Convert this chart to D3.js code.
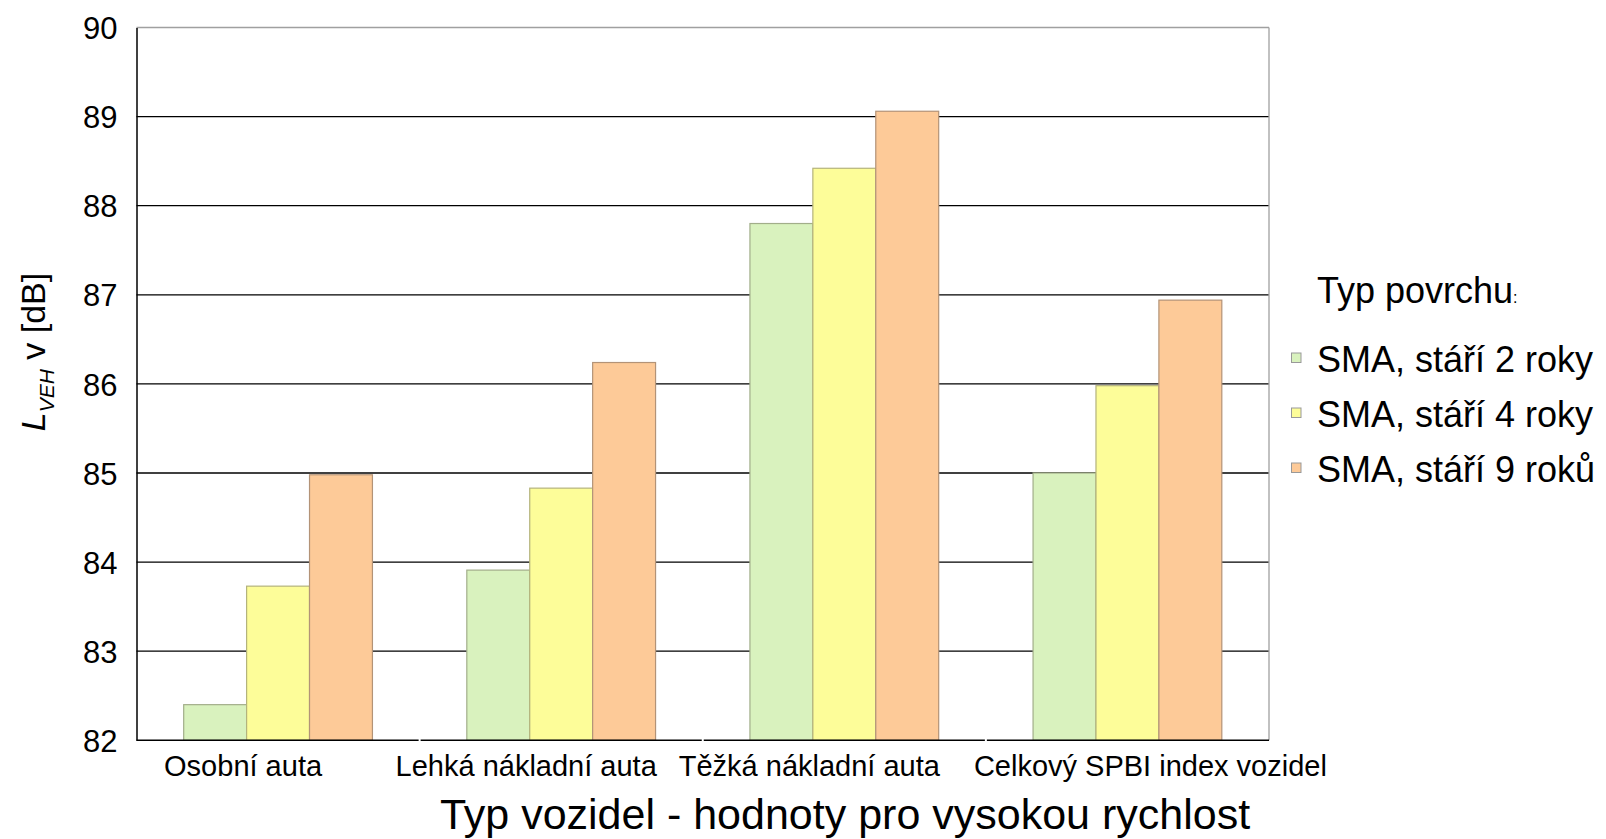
<!DOCTYPE html>
<html>
<head>
<meta charset="utf-8">
<script src="https://cdn.jsdelivr.net/npm/d3@7/dist/d3.min.js"></script>
<style>
    body { margin: 0; background: #fff; }
    text { font-family: "Liberation Sans", Arial, sans-serif; fill: #000; }
</style>
</head>
<body>
<svg id="chart" width="1606" height="839"></svg>
<script>
// data
var categories = ["Osobní auta", "Lehká nákladní auta", "Těžká nákladní auta", "Celkový SPBI index vozidel"];
var seriesNames = ["SMA, stáří 2 roky", "SMA, stáří 4 roky", "SMA, stáří 9 roků"];
var age2 = [82.40, 83.91, 87.80, 85.00];
var age4 = [83.73, 84.83, 88.42, 85.98];
var age9 = [84.98, 86.24, 89.06, 86.94];
var yTicks = [82, 83, 84, 85, 86, 87, 88, 89, 90];

var fills = ["#d9f2be", "#fdfd99", "#fdca98"];
var strokes = ["#a2ae8a", "#b4b37c", "#b39377"];

function draw() {
    var svg = d3.select('#chart');
    var plotL = 136.5, plotR = 1269, plotT = 27.5, plotB = 740.3;

    var x0 = d3.scaleBand()
        .domain(categories)
        .range([plotL, plotR])
        .padding(0);

    var x1 = d3.scaleBand()
        .domain(seriesNames)
        .range([0, x0.bandwidth()])
        .paddingInner(0)
        .paddingOuter(0.75);

    var y = d3.scaleLinear()
        .domain([82, 90])
        .range([plotB, plotT]);

    // gridlines
    svg.append("g")
        .selectAll("line")
        .data(yTicks.slice(1, -1))
        .enter()
        .append("line")
        .attr("x1", plotL).attr("x2", plotR)
        .attr("y1", function(d) { return y(d); })
        .attr("y2", function(d) { return y(d); })
        .style("stroke", "#000")
        .style("stroke-width", 1.3);

    // top and right frame (grey)
    svg.append("line")
        .attr("x1", plotL).attr("x2", plotR)
        .attr("y1", y(90)).attr("y2", y(90))
        .style("stroke", "#a0a0a0").style("stroke-width", 1.3);
    svg.append("line")
        .attr("x1", plotR).attr("x2", plotR)
        .attr("y1", y(90)).attr("y2", y(82))
        .style("stroke", "#a0a0a0").style("stroke-width", 1.3);

    // bars
    var table = categories.map(function(c, i) {
        return { cat: c, values: [age2[i], age4[i], age9[i]] };
    });

    var groups = svg.append("g")
        .selectAll("g")
        .data(table)
        .enter()
        .append("g")
        .attr("transform", function(d) { return "translate(" + x0(d.cat) + ",0)"; });

    groups.selectAll("rect")
        .data(function(d) {
            return d.values.map(function(v, k) { return { name: seriesNames[k], k: k, v: v }; });
        })
        .enter()
        .append("rect")
        .attr("x", function(d) { return x1(d.name); })
        .attr("y", function(d) { return y(d.v); })
        .attr("width", x1.bandwidth())
        .attr("height", function(d) { return y(82) - y(d.v); })
        .style("fill", function(d) { return fills[d.k]; })
        .style("stroke", function(d) { return strokes[d.k]; })
        .style("stroke-width", 1.2);

    // y axis
    var yAxis = d3.axisLeft(y)
        .tickValues(yTicks)
        .tickSize(0)
        .tickPadding(19)
        .tickFormat(d3.format("d"));

    var yg = svg.append("g")
        .attr("transform", "translate(" + plotL + ",0)")
        .call(yAxis);
    yg.select(".domain").style("stroke", "#000").style("stroke-width", 1.5);
    yg.selectAll("text")
        .style("font-size", "31px")
        .style("font-family", '"Liberation Sans", Arial, sans-serif')
        .attr("dy", "0.36em");

    // x axis line
    svg.append("line")
        .attr("x1", plotL).attr("x2", plotR)
        .attr("y1", plotB).attr("y2", plotB)
        .style("stroke", "#000").style("stroke-width", 1.5);

    // small white marks between categories
    svg.append("g")
        .selectAll("line")
        .data(categories.slice(1))
        .enter()
        .append("line")
        .attr("x1", function(d) { return x0(d); })
        .attr("x2", function(d) { return x0(d); })
        .attr("y1", plotB - 2).attr("y2", plotB + 5)
        .style("stroke", "#fff").style("stroke-width", 2);

    // category labels, nudged left, pushed right if they collide
    var catLabels = svg.append("g")
        .selectAll("text")
        .data(categories)
        .enter()
        .append("text")
        .attr("y", 776)
        .attr("text-anchor", "start")
        .style("font-size", "29px")
        .text(function(d) { return d; });

    var prevEnd = -Infinity;
    catLabels.each(function(d) {
        var w = this.getComputedTextLength();
        var start = x0(d) + x0.bandwidth() / 2 - 35 - w / 2;
        if (start < prevEnd) start = prevEnd + 34;
        d3.select(this).attr("x", start);
        prevEnd = start + w;
    });

    // x title
    svg.append("text")
        .attr("x", 845)
        .attr("y", 829)
        .attr("text-anchor", "middle")
        .style("font-size", "43px")
        .text("Typ vozidel - hodnoty pro vysokou rychlost");

    // y title
    var yt = svg.append("text")
        .attr("transform", "translate(45,352) rotate(-90)")
        .attr("text-anchor", "middle")
        .style("font-size", "34px");
    yt.append("tspan").style("font-style", "italic").text("L");
    yt.append("tspan").style("font-style", "italic").style("font-size", "21px")
        .attr("dy", 9).text("VEH");
    yt.append("tspan").attr("dy", -9).text(" v [dB]");

    // legend
    var legend = svg.append("g").attr("transform", "translate(1317,0)");
    var lt = legend.append("text")
        .attr("x", 0).attr("y", 303)
        .style("font-size", "36px");
    lt.append("tspan").text("Typ povrchu");
    lt.append("tspan").style("font-size", "16px").text(":");

    var items = legend.selectAll("g.item")
        .data(seriesNames)
        .enter()
        .append("g")
        .attr("class", "item")
        .attr("transform", function(d, i) { return "translate(0," + (372 + i * 55) + ")"; });

    items.append("rect")
        .attr("x", -25.5).attr("y", -19)
        .attr("width", 9.5).attr("height", 9.5)
        .style("fill", function(d, i) { return fills[i]; })
        .style("stroke", "#999")
        .style("stroke-width", 1);

    items.append("text")
        .attr("x", 0).attr("y", 0)
        .style("font-size", "36px")
        .text(function(d) { return d; });
}

draw();
</script>
</body>
</html>
